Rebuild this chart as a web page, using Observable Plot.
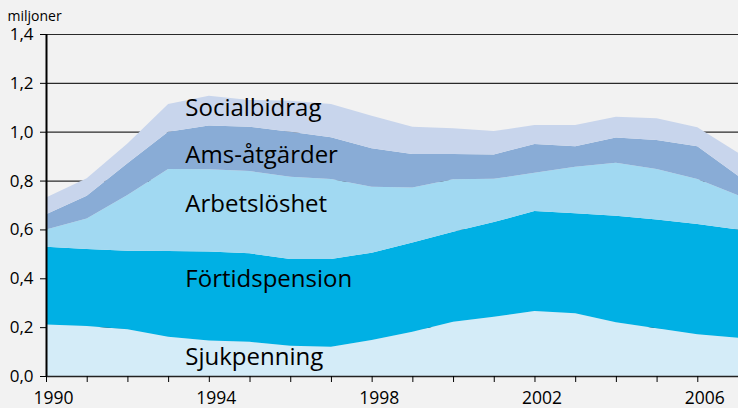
<!DOCTYPE html>
<html>
<head>
<meta charset="utf-8">
<script src="https://cdn.jsdelivr.net/npm/d3@7"></script>
<script src="https://cdn.jsdelivr.net/npm/@observablehq/plot@0.6"></script>
<style>
  html, body { margin: 0; padding: 0; background: #f2f2f2; }
  #chart svg { display: block; }
</style>
</head>
<body>
<div id="chart"></div>
<script>
const years = [1990, 1991, 1992, 1993, 1994, 1995, 1996, 1997, 1998, 1999, 2000, 2001, 2002, 2003, 2004, 2005, 2006, 2007];
const seriesNames = ["Sjukpenning", "Förtidspension", "Arbetslöshet", "Ams-åtgärder", "Socialbidrag"];
const sjukpenning    = [0.211, 0.205, 0.191, 0.161, 0.145, 0.140, 0.124, 0.120, 0.147, 0.181, 0.222, 0.243, 0.266, 0.257, 0.220, 0.195, 0.171, 0.157];
const fortidspension = [0.318, 0.315, 0.322, 0.351, 0.365, 0.362, 0.355, 0.359, 0.358, 0.366, 0.369, 0.387, 0.409, 0.409, 0.436, 0.446, 0.451, 0.443];
const arbetsloshet   = [0.071, 0.125, 0.228, 0.335, 0.336, 0.337, 0.337, 0.327, 0.270, 0.225, 0.214, 0.177, 0.157, 0.191, 0.217, 0.206, 0.184, 0.140];
const amsAtgarder    = [0.062, 0.093, 0.130, 0.153, 0.179, 0.181, 0.184, 0.171, 0.157, 0.137, 0.104, 0.100, 0.118, 0.084, 0.103, 0.119, 0.135, 0.080];
const socialbidrag   = [0.069, 0.071, 0.081, 0.113, 0.122, 0.110, 0.127, 0.136, 0.133, 0.111, 0.105, 0.096, 0.077, 0.086, 0.085, 0.089, 0.077, 0.094];
const yTicks = [0, 0.2, 0.4, 0.6, 0.8, 1.0, 1.2, 1.4];
const xLabelYears = [1990, 1994, 1998, 2002, 2006];
const colors = ["#d4ecf8", "#00b0e4", "#a1d9f2", "#89acd6", "#c8d5ec"];

const valuesBySeries = [sjukpenning, fortidspension, arbetsloshet, amsAtgarder, socialbidrag];
const rows = [];
seriesNames.forEach((name, i) => {
  years.forEach((year, j) => rows.push({series: name, year, value: valuesBySeries[i][j]}));
});

// label anchor: middle of each layer at 1994
const labelYear = 1994;
const li = years.indexOf(labelYear);
let cum = 0;
const labelRows = seriesNames.map((name, i) => {
  const v = valuesBySeries[i][li];
  const r = {series: name, year: labelYear, mid: cum + v / 2};
  cum += v;
  return r;
});
const labelDy = {"Sjukpenning": -1, "Förtidspension": -17, "Arbetslöshet": -7, "Ams-åtgärder": 7, "Socialbidrag": -3};

const fmt = d => d.toFixed(1).replace(".", ",");

const chart = Plot.plot({
  width: 738,
  height: 408,
  marginLeft: 46,
  marginRight: 0,
  marginTop: 34,
  marginBottom: 32,
  style: {background: "#f2f2f2", fontFamily: "Open Sans", color: "#000"},
  x: {domain: [1990, 2007]},
  y: {domain: [0, 1.4]},
  color: {domain: seriesNames, range: colors},
  marks: [
    Plot.ruleY(yTicks.filter(d => d > 0), {stroke: "#2a2a2a", strokeWidth: 1.2}),
    Plot.areaY(rows, {x: "year", y: "value", fill: "series", order: seriesNames, curve: "linear"}),
    Plot.ruleY([0], {stroke: "#222", strokeWidth: 1.5}),
    Plot.ruleX([1990], {stroke: "#000", strokeWidth: 2}),
    Plot.axisY({ticks: yTicks, tickFormat: fmt, tickSize: 6, tickPadding: 7, fontSize: 17, label: null, stroke: "#000"}),
    Plot.axisX({ticks: years, tickFormat: () => "", tickSize: 6, label: null, stroke: "#000"}),
    Plot.axisX({ticks: xLabelYears, tickFormat: d => String(d), tickSize: 0, tickPadding: 15, dx: 7, fontSize: 17.5, label: null}),
    ...labelRows.map(r => Plot.text([r], {
      x: "year", y: "mid", text: "series", textAnchor: "start", dx: -24, dy: labelDy[r.series],
      fontSize: 24, fill: "#000"
    })),
    Plot.text(["miljoner"], {frameAnchor: "top-left", text: d => d, textAnchor: "start", dx: -39, dy: -23, fontSize: 14, fill: "#000"})
  ]
});
document.getElementById("chart").appendChild(chart);
</script>
</body>
</html>
